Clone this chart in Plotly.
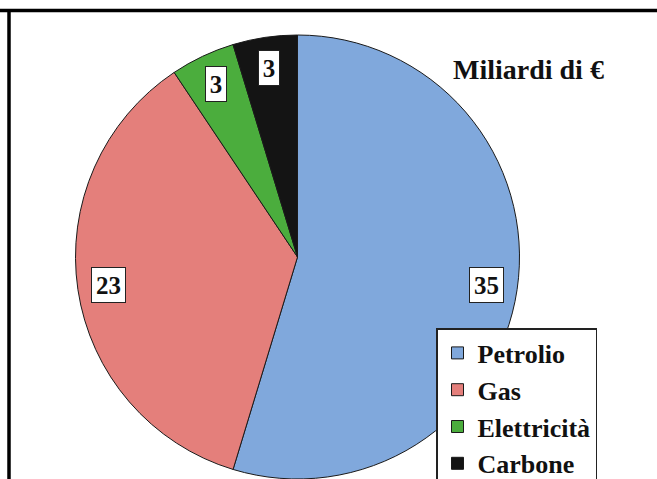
import math
import plotly.graph_objects as go

# ---- data ----
categories = ["Petrolio", "Gas", "Elettricità", "Carbone"]
values = [35, 23, 3, 3]
colors = ["#80a8dc", "#e47f7b", "#4bad3d", "#141414"]
title_text = "Miliardi di €"

W, H = 657, 479
FONT = "Liberation Serif"

# pie geometry (pixels)
cx, r = 297.5, 222.0
top = 35.0
cy = top + r
dom_x = [(cx - r) / W, (cx + r) / W]
dom_y = [0.0, 1 - top / H]

fig = go.Figure()
fig.add_trace(go.Pie(
    labels=categories,
    values=values,
    sort=False,
    direction="clockwise",
    rotation=0,
    textinfo="none",
    hoverinfo="label+value",
    marker=dict(colors=colors, line=dict(color="#1a1a1a", width=1)),
    domain=dict(x=dom_x, y=dom_y),
))

# value labels placed at slice mid-angles (computed from the data)
total = sum(values)
cum = 0.0
frac = 0.86
for v in values:
    mid = (cum + v / 2) / total * 2 * math.pi
    cum += v
    px = cx + frac * r * math.sin(mid)
    py = cy - frac * r * math.cos(mid)
    txt = str(v)
    fig.add_annotation(
        x=px / W, y=1 - py / H, xref="paper", yref="paper",
        xanchor="center", yanchor="middle",
        text=txt, showarrow=False,
        width=13 * len(txt) + 1, height=28,
        font=dict(family=FONT, size=25, color="#111", weight="bold"),
        bgcolor="white", bordercolor="#222", borderwidth=1, borderpad=3,
    )

fig.add_annotation(
    x=528 / W, y=1 - 70 / H, xref="paper", yref="paper",
    xanchor="center", yanchor="middle",
    text=title_text, showarrow=False,
    font=dict(family=FONT, size=28, color="#111", weight="bold"),
)

# frame lines
fig.add_shape(type="line", xref="paper", yref="paper", x0=0, x1=1,
              y0=1 - 10.5 / H, y1=1 - 10.5 / H, line=dict(color="black", width=3.5))
fig.add_shape(type="line", xref="paper", yref="paper", x0=9 / W, x1=9 / W,
              y0=0, y1=1 - 9 / H, line=dict(color="black", width=3.5))

fig.update_layout(
    width=W, height=H,
    margin=dict(l=0, r=0, t=0, b=0, autoexpand=False),
    paper_bgcolor="white",
    plot_bgcolor="white",
    showlegend=True,
    legend=dict(
        x=436 / W, y=1 - 328 / H, xanchor="left", yanchor="top",
        font=dict(family=FONT, size=26, color="#111", weight="bold"),
        bordercolor="#222", borderwidth=1.5, bgcolor="white",
        itemclick=False,
    ),
)

fig.write_html("out.html", config={"displayModeBar": False},
               post_script="document.body.style.margin='0';document.body.style.overflow='hidden';")
